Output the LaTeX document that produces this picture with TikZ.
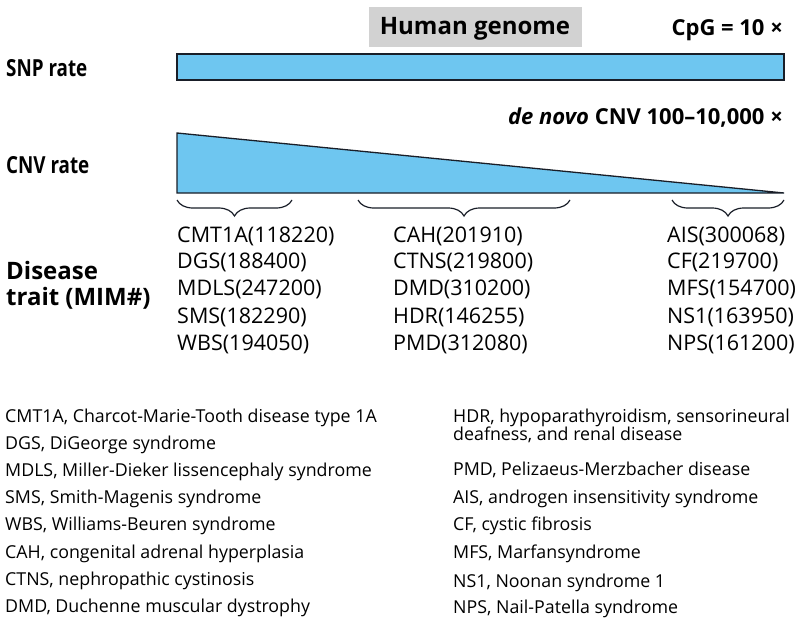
\documentclass[tikz,border=0pt]{standalone}
\usepackage{fontspec}
\setmainfont{Open Sans}
\usetikzlibrary{decorations.pathreplacing}
\definecolor{barblue}{RGB}{110,198,240}
\definecolor{boxgray}{RGB}{210,210,210}
\definecolor{edge}{RGB}{25,30,40}
\begin{document}
\begin{tikzpicture}[x=1pt,y=1pt,
  lab/.style={font=\fontsize{24}{26}\selectfont\bfseries, anchor=base west, inner sep=0},
  rate/.style={font=\fontsize{23.5}{26}\selectfont\bfseries, anchor=base west, inner sep=0},
  hdr/.style={font=\fontsize{22}{24}\selectfont\bfseries, anchor=base east, inner sep=0},
  dis/.style={font=\fontsize{21.5}{22}\selectfont, anchor=base west, inner sep=0},
  leg/.style={font=\fontsize{17.8}{18}\selectfont, anchor=base west, inner sep=0, align=left},
  bar/.style={fill=barblue, draw=edge, line width=1.3pt, line join=miter},
  brc/.style={draw=edge, decorate, decoration={brace, mirror, amplitude=16pt}, line width=1.2pt}]
\useasboundingbox (0,0) rectangle (800,-626);
% title box
\node[fill=boxgray, minimum width=213pt, minimum height=40pt, inner sep=0] (hg) at (475.5,-27) {};
\node[font=\fontsize{24}{26}\selectfont\bfseries, anchor=base, inner sep=0] (hgt) at (475,-35) {Human genome};
\node[hdr] (cpg) at (783,-36) {CpG = 10 ×};
% SNP bar
\node[rate] (snp) at (6,-77) {\scalebox{0.8}[1]{SNP rate}};
\draw[bar] (177,-54) rectangle (784,-80);
% CNV
\node[hdr] (dn) at (783,-124) {\textit{de novo} CNV 100–10,000 ×};
\node[rate] (cnv) at (6,-173) {\scalebox{0.8}[1]{CNV rate}};
\draw[bar] (177,-133) -- (784,-193) -- (177,-193) -- cycle;
% braces
\coordinate (b1a) at (177,-200); \coordinate (b1b) at (292,-200);
\coordinate (b2a) at (358,-200); \coordinate (b2b) at (570,-200);
\coordinate (b3a) at (672,-200); \coordinate (b3b) at (784,-200);
\draw[brc] (b1a) -- (b1b);
\draw[brc] (b2a) -- (b2b);
\draw[brc] (b3a) -- (b3b);
% disease label
\node[lab] (dis1) at (6,-279) {Disease};
\node[lab] (dis2) at (6,-305) {trait (MIM\#)};
% columns
\node[dis] (c1r1) at (177,-242) {CMT1A(118220)};
\node[dis] (c1r2) at (177,-268) {DGS(188400)};
\node[dis] (c1r3) at (177,-295) {MDLS(247200)};
\node[dis] (c1r4) at (177,-323) {SMS(182290)};
\node[dis] (c1r5) at (177,-350) {WBS(194050)};
\node[dis] (c2r1) at (393,-242) {CAH(201910)};
\node[dis] (c2r2) at (393,-268) {CTNS(219800)};
\node[dis] (c2r3) at (393,-295) {DMD(310200)};
\node[dis] (c2r4) at (393,-323) {HDR(146255)};
\node[dis] (c2r5) at (393,-350) {PMD(312080)};
\node[dis] (c3r1) at (667,-242) {AIS(300068)};
\node[dis] (c3r2) at (667,-268) {CF(219700)};
\node[dis] (c3r3) at (667,-295) {MFS(154700)};
\node[dis] (c3r4) at (667,-323) {NS1(163950)};
\node[dis] (c3r5) at (667,-350) {NPS(161200)};
% legend left
\node[leg] (l1) at (5,-422) {CMT1A, Charcot-Marie-Tooth disease type 1A};
\node[leg] (l2) at (5,-449) {DGS, DiGeorge syndrome};
\node[leg] (l3) at (5,-476) {MDLS, Miller-Dieker lissencephaly syndrome};
\node[leg] (l4) at (5,-503) {SMS, Smith-Magenis syndrome};
\node[leg] (l5) at (5,-530) {WBS, Williams-Beuren syndrome};
\node[leg] (l6) at (5,-558) {CAH, congenital adrenal hyperplasia};
\node[leg] (l7) at (5,-585) {CTNS, nephropathic cystinosis};
\node[leg] (l8) at (5,-612) {DMD, Duchenne muscular dystrophy};
% legend right
\node[leg] (r1) at (453,-422) {HDR, hypoparathyroidism, sensorineural};
\node[leg] (r1b) at (453,-440) {deafness, and renal disease};
\node[leg] (r2) at (453,-475) {PMD, Pelizaeus-Merzbacher disease};
\node[leg] (r3) at (453,-503) {AIS, androgen insensitivity syndrome};
\node[leg] (r4) at (453,-530) {CF, cystic fibrosis};
\node[leg] (r5) at (453,-558) {MFS, Marfansyndrome};
\node[leg] (r6) at (453,-587) {NS1, Noonan syndrome 1};
\node[leg] (r7) at (453,-613) {NPS, Nail-Patella syndrome};
\end{tikzpicture}
\end{document}
